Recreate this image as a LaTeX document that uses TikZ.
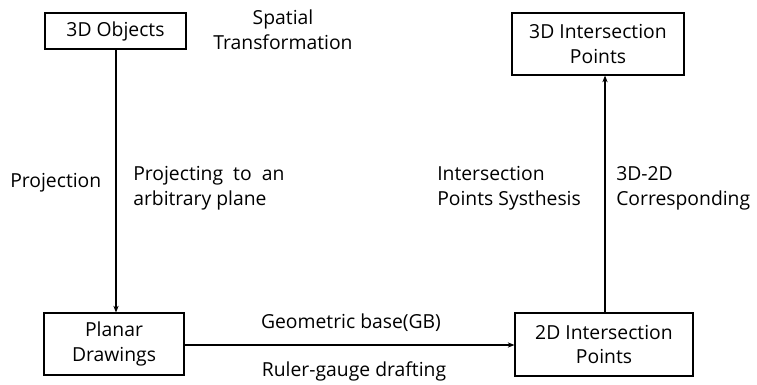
\documentclass[tikz,border=0pt]{standalone}
\usepackage{fontspec}
\setmainfont{Open Sans}
\usetikzlibrary{arrows.meta}
\begin{document}
\begin{tikzpicture}[x=0.75pt,y=-0.75pt,
  box/.style={draw,line width=0.9pt,inner sep=0pt,align=center,font=\fontsize{14.5}{18.5}\selectfont},
  lbl/.style={inner sep=0pt,font=\fontsize{14.5}{19}\selectfont},
  conn/.style={line width=0.9pt,-{Stealth[length=5pt,width=4pt]}}]
\useasboundingbox (0,0) rectangle (757,385);
\node[box,minimum width=141*0.75pt,minimum height=36*0.75pt] (obj) at (115.5,31) {3D Objects};
\node[box,minimum width=172*0.75pt,minimum height=62*0.75pt] (ip3) at (598,44) {3D Intersection\\Points};
\node[box,minimum width=140*0.75pt,minimum height=62*0.75pt] (pd) at (114,344) {Planar\\Drawings};
\node[box,minimum width=178*0.75pt,minimum height=63*0.75pt] (ip2) at (604,344.5) {2D Intersection\\Points};
\draw[conn] (obj.south -| 116,0) -- (pd.north -| 116,0);
\draw[conn] (pd.east |- 0,345) -- (ip2.west |- 0,345);
\draw[conn] (ip2.north -| 605,0) -- (ip3.south -| 605,0);
\node[lbl,align=center] (st) at (283,30) {Spatial\\Transformation};
\node[lbl,anchor=west] (pj) at (10,183) {Projection};
\node[lbl,anchor=west,align=left] (pa) at (133,188) {Projecting\ \ to\ \ an\\arbitrary plane};
\node[lbl,anchor=west,align=left] (ips) at (437,188) {Intersection\\Points Systhesis};
\node[lbl,anchor=west,align=left] (cor) at (616,188) {3D-2D\\Corresponding};
\node[lbl] (gb) at (351,323) {Geometric base(GB)};
\node[lbl] (rg) at (354,371) {Ruler-gauge drafting};
\end{tikzpicture}
\end{document}
